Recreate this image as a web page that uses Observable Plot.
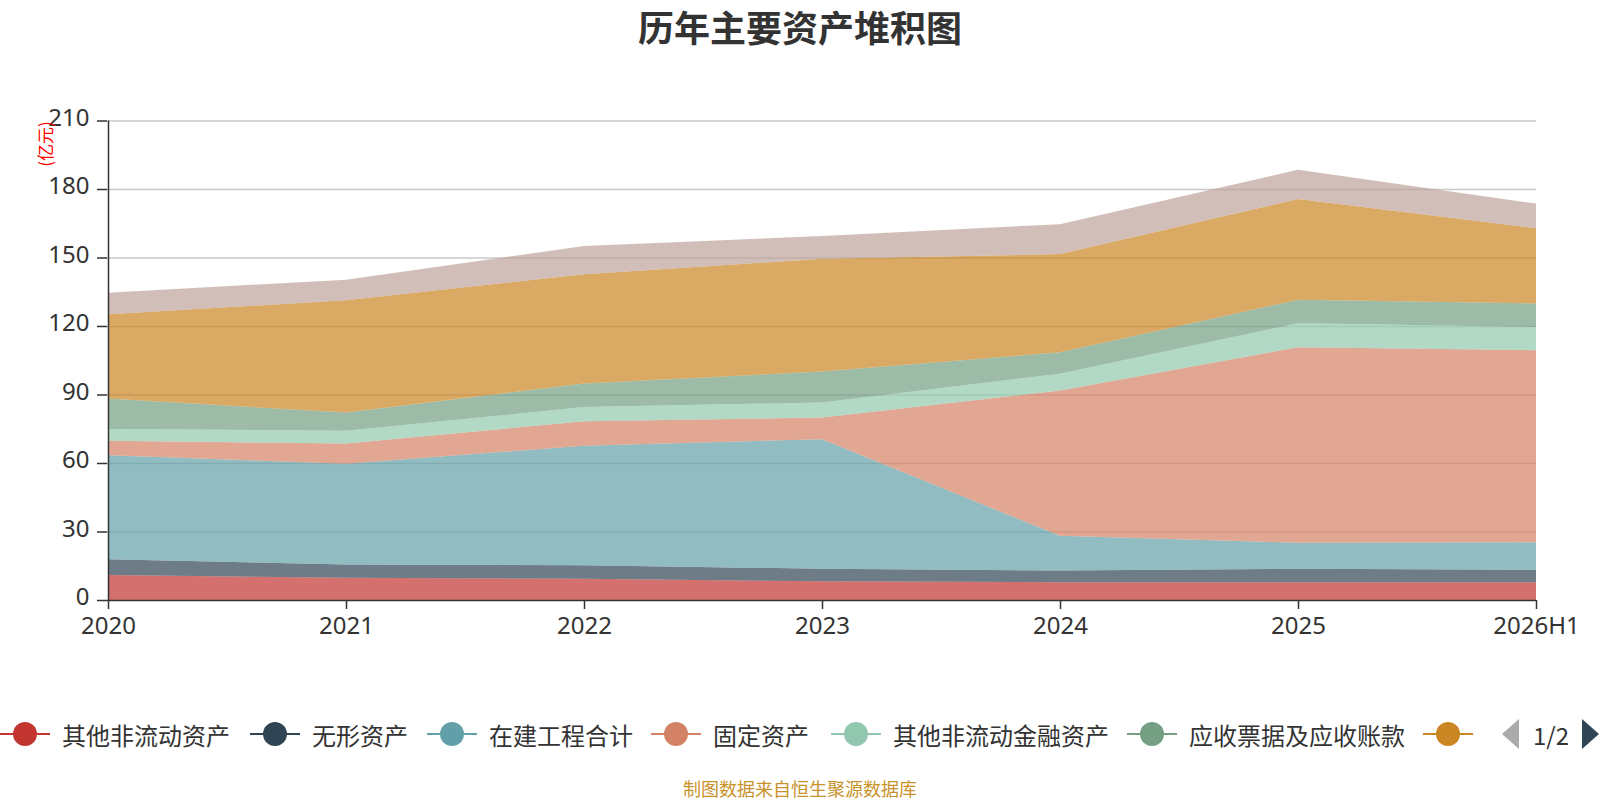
<!DOCTYPE html>
<html><head><meta charset="utf-8">
<script src="https://cdn.jsdelivr.net/npm/d3@7"></script>
<script src="https://cdn.jsdelivr.net/npm/@observablehq/plot@0.6"></script>
<style>
body{margin:0;background:#fff;font-family:"Noto Sans CJK SC","Noto Sans",sans-serif;}
#wrap{position:relative;width:1600px;height:800px;overflow:hidden;background:#fff;}
#title{position:absolute;top:0;left:0;width:1600px;text-align:center;font-size:36px;font-weight:bold;color:#333;line-height:52px;z-index:2;}
#chart{position:absolute;top:0;left:0;}
#unit{position:absolute;left:44px;top:144px;transform:translate(-50%,-50%) rotate(-90deg);font-size:17px;color:#f00;white-space:nowrap;}
.lg{position:absolute;top:719px;height:30px;display:flex;align-items:center;font-size:24px;color:#333;white-space:nowrap;}
.lg span{margin-left:12px;}
#caption{position:absolute;top:778px;left:0;width:1600px;text-align:center;font-size:18px;color:#c8922a;line-height:21px;}
#pager{position:absolute;top:719px;left:1501px;height:30px;display:flex;align-items:center;font-size:24px;color:#333;}
</style></head>
<body><div id="wrap">
<div id="chart"></div>
<div id="title">历年主要资产堆积图</div>
<div id="unit">(亿元)</div>
<div id="legend"></div>
<div id="caption">制图数据来自恒生聚源数据库</div>
</div>
<script>
const years = ["2020","2021","2022","2023","2024","2025","2026H1"];
const seriesNames = ["其他非流动资产","无形资产","在建工程合计","固定资产","其他非流动金融资产","应收票据及应收账款","货币资金","存货"];
const otherNonCurrent = [10.9, 9.7, 9.3, 8.2, 7.8, 7.8, 7.8];
const intangible = [6.9, 5.9, 5.9, 5.5, 5.1, 5.9, 5.4];
const construction = [45.6, 44.1, 52.4, 56.7, 15.2, 11.4, 12.1];
const fixedAssets = [6.3, 8.8, 10.7, 9.5, 63.7, 85.6, 84.1];
const otherFinancial = [5.2, 5.6, 6.2, 6.6, 7.3, 10.5, 10.2];
const receivables = [13.3, 8.0, 10.3, 13.6, 9.4, 10.3, 10.3];
const seriesG = [36.9, 49.2, 47.9, 49.3, 43.0, 44.1, 32.9];
const seriesH = [9.5, 9.0, 12.3, 10.0, 13.1, 12.8, 10.8];
const yTicks = [0, 30, 60, 90, 120, 150, 180, 210];
const colors = ["#c23531","#2f4554","#61a0a8","#d48265","#91c7ae","#749f83","#ca8622","#bda29a"];
const legendShown = 7;

const allSeries = [otherNonCurrent, intangible, construction, fixedAssets, otherFinancial, receivables, seriesG, seriesH];
const rows = [];
allSeries.forEach((vals, si) => vals.forEach((v, i) => rows.push({series: seriesNames[si], year: years[i], value: v})));

const chart = Plot.plot({
  width: 1600, height: 660,
  marginTop: 120.5, marginLeft: 107, marginRight: 64, marginBottom: 60,
  style: {fontFamily: '"Noto Sans","Noto Sans CJK SC",sans-serif', fontSize: "24px", color: "#333", background: "transparent", overflow: "visible"},
  x: {type: "point", domain: years, padding: 0, label: null},
  y: {domain: [0, 210], label: null},
  color: {domain: seriesNames, range: colors},
  marks: [
    Plot.gridY(yTicks.slice(1), {stroke: "#c8c8c8", strokeOpacity: 1, strokeWidth: 1.5}),
    Plot.areaY(rows, Plot.stackY({x: "year", y: "value", fill: "series", fillOpacity: 0.7, order: seriesNames})),
    Plot.ruleX([years[0]], {stroke: "#333", strokeWidth: 1.5}),
    Plot.ruleY([0], {stroke: "#333", strokeWidth: 1.5}),
    Plot.axisY(yTicks, {tickSize: 10, tickFormat: () => "", stroke: "#333", strokeWidth: 1.5, label: null}),
    Plot.axisY(yTicks, {tickSize: 0, tickPadding: 18, fontSize: 24, fill: "#333", label: null, dy: -3}),
    Plot.axisX(years, {tickSize: 9, tickPadding: 7, fontSize: 24, stroke: "#333", strokeWidth: 1.5, fill: "#333", label: null})
  ]
});
document.getElementById("chart").appendChild(chart);

// legend
const legendLefts = [0, 250, 427, 651, 831, 1127, 1423];
const legend = document.getElementById("legend");
for (let i = 0; i < legendShown; i++) {
  const d = document.createElement("div");
  d.className = "lg";
  d.style.left = legendLefts[i] + "px";
  const c = colors[i];
  d.innerHTML = `<svg width="50" height="30"><line x1="0" y1="15" x2="50" y2="15" stroke="${c}" stroke-width="2"/><circle cx="25" cy="15" r="12" fill="${c}"/></svg>` + (i < legendShown - 1 ? `<span>${seriesNames[i]}</span>` : "");
  legend.appendChild(d);
}
const pager = document.createElement("div");
pager.id = "pager";
pager.innerHTML = `<svg width="19" height="30"><polygon points="18,0 18,30 1,15" fill="#aaa"/></svg><span style="margin:0 12px 0 13px">1/2</span><svg width="19" height="30"><polygon points="1,0 1,30 18,15" fill="#2f4554"/></svg>`;
legend.appendChild(pager);
</script>
</body></html>
